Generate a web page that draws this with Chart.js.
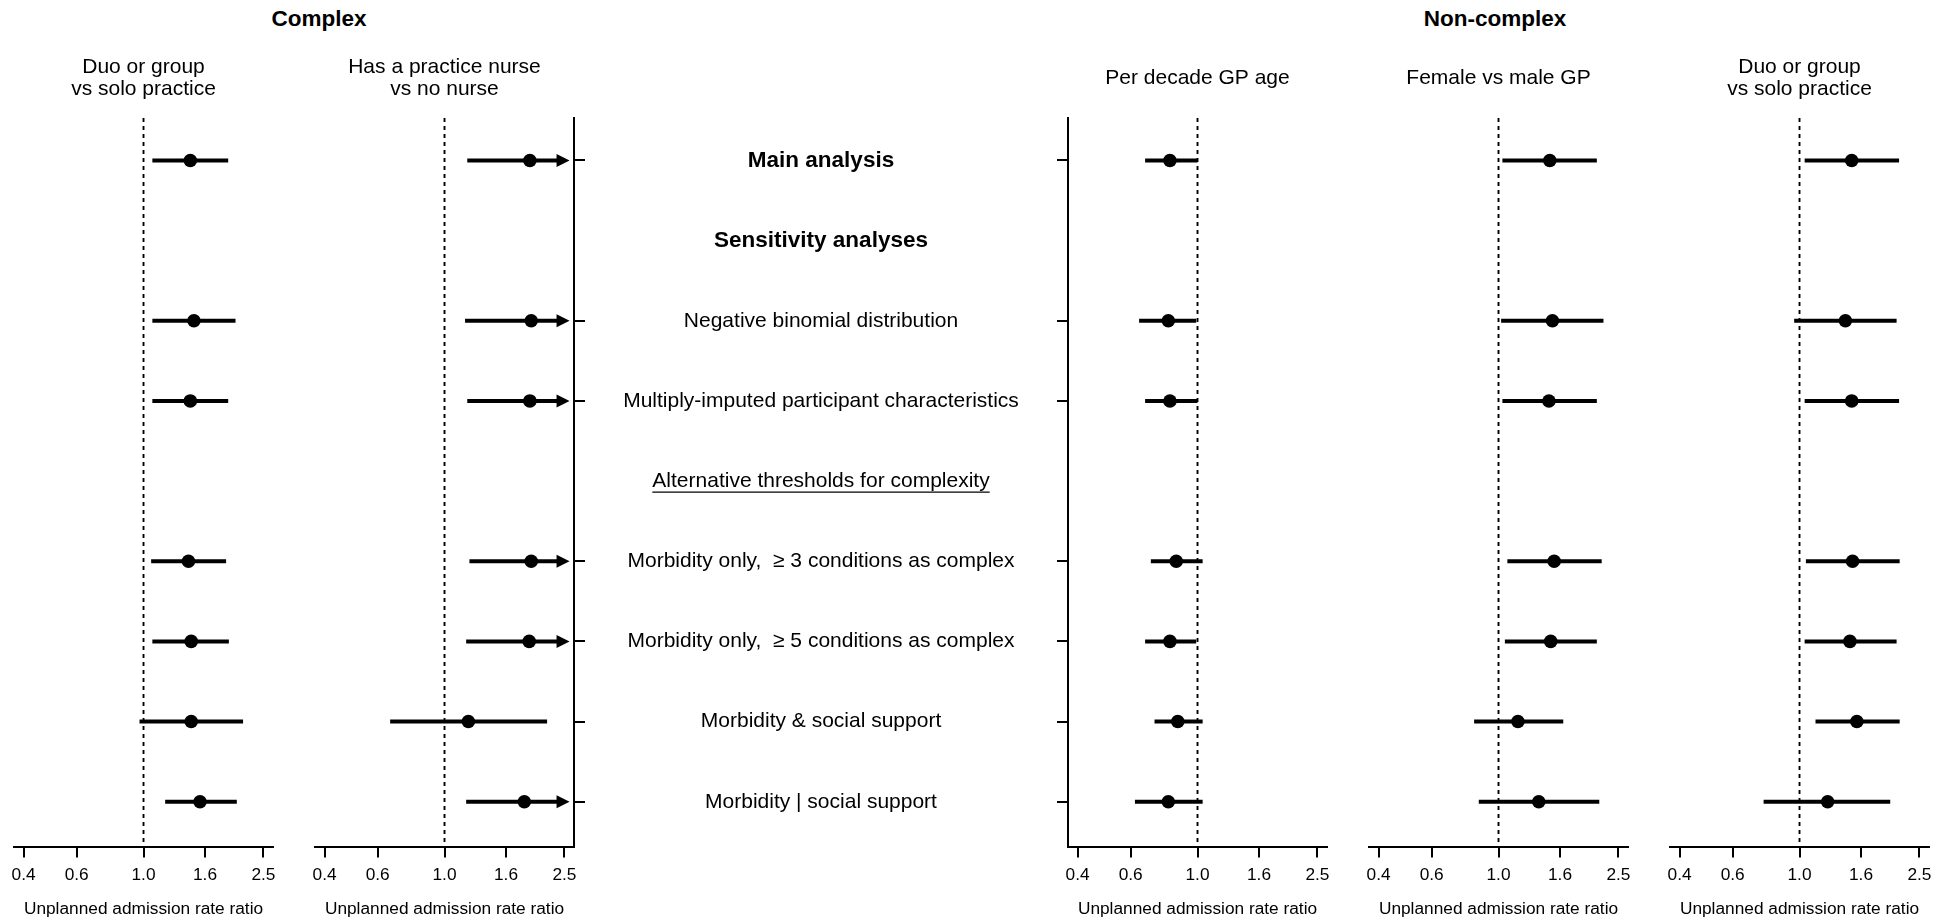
<!DOCTYPE html>
<html>
<head>
<meta charset="utf-8">
<script src="https://cdn.jsdelivr.net/npm/chart.js@4.4.1/dist/chart.umd.min.js"></script>
<style>
  html, body { margin: 0; padding: 0; background: #fff; }
  #wrap { position: relative; width: 1952px; height: 921px; overflow: hidden;
          font-family: 'Liberation Sans', Arial, Helvetica, sans-serif; color: #000; }
  #wrap canvas { position: absolute; top: 0; }
  .group { position: absolute; top: 6px; line-height: 26px; transform: translateX(-50%);
           font-weight: bold; font-size: 22.5px; white-space: nowrap; }
</style>
</head>
<body>
<div id="wrap">
  <div class="group" style="left:319px">Complex</div>
  <div class="group" style="left:1495px">Non-complex</div>
  <canvas id="p1" width="300" height="921"></canvas>
  <canvas id="p2" width="773" height="921"></canvas>
  <canvas id="p3" width="300" height="921"></canvas>
  <canvas id="p4" width="300" height="921"></canvas>
  <canvas id="p5" width="302" height="921"></canvas>
</div>
<script>
// ---- rows of the forest plot (top to bottom) ----
const rowLabels = [
  'Main analysis',
  'Sensitivity analyses',
  'Negative binomial distribution',
  'Multiply-imputed participant characteristics',
  'Alternative thresholds for complexity',
  'Morbidity only,  \u2265 3 conditions as complex',
  'Morbidity only,  \u2265 5 conditions as complex',
  'Morbidity & social support',
  'Morbidity | social support'
];
const rowKinds = ['header', 'header', 'item', 'item', 'subheader', 'item', 'item', 'item', 'item'];
// rows that carry an estimate
const dataRows = [0, 2, 3, 5, 6, 7, 8];

// ---- x axis ticks (rate ratio, log scale) ----
const tickValues = [0.4, 0.6, 1.0, 1.6, 2.5];
const tickLabels = ['0.4', '0.6', '1.0', '1.6', '2.5'];
const axisTitle = 'Unplanned admission rate ratio';

// ---- Complex: duo or group vs solo practice ----
const cxDuoEst = [1.43, 1.47, 1.43, 1.41, 1.44, 1.44, 1.54];
const cxDuoLo  = [1.07, 1.07, 1.07, 1.06, 1.07, 0.97, 1.18];
const cxDuoHi  = [1.91, 2.02, 1.91, 1.88, 1.92, 2.14, 2.04];

// ---- Complex: has a practice nurse vs no nurse ----
const cxNurseEst = [1.92, 1.94, 1.92, 1.94, 1.91, 1.20, 1.84];
const cxNurseLo  = [1.19, 1.17, 1.19, 1.21, 1.18, 0.66, 1.18];
const cxNurseHi  = [3.10, 3.22, 3.10, 3.11, 3.09, 2.19, 2.87];

// ---- Non-complex: per decade GP age ----
const ncAgeEst = [0.81, 0.80, 0.81, 0.85, 0.81, 0.86, 0.80];
const ncAgeLo  = [0.67, 0.64, 0.67, 0.70, 0.67, 0.72, 0.62];
const ncAgeHi  = [1.00, 0.99, 1.00, 1.04, 0.99, 1.04, 1.04];

// ---- Non-complex: female vs male GP ----
const ncSexEst = [1.48, 1.51, 1.47, 1.53, 1.49, 1.16, 1.36];
const ncSexLo  = [1.03, 1.02, 1.03, 1.07, 1.05, 0.83, 0.86];
const ncSexHi  = [2.12, 2.23, 2.12, 2.20, 2.12, 1.64, 2.16];

// ---- Non-complex: duo or group vs solo practice ----
const ncDuoEst = [1.49, 1.42, 1.49, 1.50, 1.47, 1.55, 1.24];
const ncDuoLo  = [1.04, 0.96, 1.04, 1.05, 1.04, 1.13, 0.76];
const ncDuoHi  = [2.14, 2.10, 2.14, 2.15, 2.10, 2.15, 2.00];

// ---- drawing settings ----
const FONT = "'Liberation Sans', Arial, Helvetica, sans-serif";
const X_MIN = 0.3717, X_MAX = 2.690;   // axis range (4% beyond outer ticks)
const ARROW_TIP = 2.6;                  // where truncated intervals end
const Y_MIN = -0.53, Y_MAX = 8.56;

// dotted line of no effect at 1.0
const nullLine = {
  id: 'nullLine',
  beforeDatasetsDraw(chart) {
    const {ctx, chartArea, scales: {x}} = chart;
    const px = x.getPixelForValue(1.0);
    ctx.save();
    ctx.strokeStyle = '#000';
    ctx.lineWidth = 1.9;
    ctx.setLineDash([4, 4]);
    ctx.beginPath();
    ctx.moveTo(px, chartArea.top);
    ctx.lineTo(px, chartArea.bottom);
    ctx.stroke();
    ctx.restore();
  }
};

// confidence interval segments, with an arrow when the upper limit is off scale
const ciLines = {
  id: 'ciLines',
  beforeDatasetsDraw(chart) {
    const {ctx, scales: {x, y}} = chart;
    const pts = chart.data.datasets[0].data;
    ctx.save();
    ctx.strokeStyle = '#000';
    ctx.fillStyle = '#000';
    ctx.lineWidth = 4;
    ctx.lineCap = 'butt';
    pts.forEach(p => {
      const py = y.getPixelForValue(p.y);
      const x0 = x.getPixelForValue(Math.max(p.lo, X_MIN));
      if (p.hi > X_MAX) {
        const tip = x.getPixelForValue(ARROW_TIP);
        const base = tip - 13;
        ctx.beginPath();
        ctx.moveTo(x0, py);
        ctx.lineTo(base + 1, py);
        ctx.stroke();
        ctx.beginPath();
        ctx.moveTo(tip, py);
        ctx.lineTo(base, py - 6.5);
        ctx.lineTo(base, py + 6.5);
        ctx.closePath();
        ctx.fill();
      } else {
        ctx.beginPath();
        ctx.moveTo(x0, py);
        ctx.lineTo(x.getPixelForValue(p.hi), py);
        ctx.stroke();
      }
    });
    ctx.restore();
  }
};

// analysis names between the two groups of panels
const rowNames = {
  id: 'rowNames',
  afterDraw(chart) {
    const {ctx, chartArea, scales: {y}} = chart;
    const cx = (chartArea.right + chart.width) / 2;
    ctx.save();
    ctx.fillStyle = '#000';
    ctx.strokeStyle = '#000';
    ctx.textAlign = 'center';
    ctx.textBaseline = 'middle';
    rowLabels.forEach((label, i) => {
      const py = y.getPixelForValue(i);
      const kind = rowKinds[i];
      ctx.font = kind === 'header' ? 'bold 22.5px ' + FONT : '21px ' + FONT;
      ctx.fillText(label, cx, py);
      if (kind === 'subheader') {
        const w = ctx.measureText(label).width;
        ctx.lineWidth = 1.4;
        ctx.beginPath();
        ctx.moveTo(cx - w / 2, py + 11);
        ctx.lineTo(cx + w / 2, py + 11);
        ctx.stroke();
      }
    });
    ctx.restore();
  }
};

function makePanel(spec) {
  const canvas = document.getElementById(spec.id);
  canvas.style.left = spec.left + 'px';
  const points = dataRows.map((r, i) => ({x: spec.est[i], y: r, lo: spec.lo[i], hi: spec.hi[i]}));
  const twoLines = spec.title.length > 1;
  const plugins = [nullLine, ciLines];
  if (spec.rowNames) plugins.push(rowNames);
  return new Chart(canvas, {
    type: 'scatter',
    data: {
      datasets: [{
        data: points,
        pointRadius: 6.8,
        pointHoverRadius: 6.8,
        pointBackgroundColor: '#000',
        pointBorderColor: '#000',
        pointBorderWidth: 0
      }]
    },
    options: {
      responsive: false,
      animation: false,
      devicePixelRatio: 1,
      events: [],
      layout: {padding: {left: spec.padL, right: spec.padR, top: 0, bottom: 0}},
      plugins: {
        legend: {display: false},
        tooltip: {enabled: false},
        title: {
          display: true,
          text: spec.title,
          fullSize: false,
          color: '#000',
          font: {family: FONT, size: 21, weight: 'normal', lineHeight: 1.071},
          padding: twoLines ? {top: 55.5, bottom: 17.5} : {top: 66.5, bottom: 29}
        }
      },
      scales: {
        x: {
          type: 'logarithmic',
          position: 'bottom',
          min: X_MIN,
          max: X_MAX,
          afterBuildTicks: s => { s.ticks = tickValues.map(v => ({value: v})); },
          afterFit: s => { s.height = 74.4; },
          border: {display: true, color: '#000', width: 2},
          grid: {display: true, drawOnChartArea: false, drawTicks: true, tickLength: 11, color: '#000', lineWidth: 2},
          ticks: {
            color: '#000', font: {family: FONT, size: 17.3}, padding: 7,
            autoSkip: false, maxRotation: 0, minRotation: 0,
            callback: (v, i) => tickLabels[i]
          },
          title: {display: true, text: axisTitle, color: '#000',
                  font: {family: FONT, size: 17.3}, padding: {top: 4, bottom: 1.5}}
        },
        y: {
          type: 'linear',
          reverse: true,
          min: Y_MIN,
          max: Y_MAX,
          display: spec.yAxis !== null,
          position: spec.yAxis || 'left',
          afterBuildTicks: s => { s.ticks = dataRows.map(v => ({value: v})); },
          border: {display: true, color: '#000', width: 2},
          grid: {display: true, drawOnChartArea: false, drawTicks: true, tickLength: 11, color: '#000', lineWidth: 2},
          ticks: {display: false}
        }
      }
    },
    plugins
  });
}

makePanel({id: 'p1', left: 0, padL: 14, padR: 27, yAxis: null,
  title: ['Duo or group', 'vs solo practice'], est: cxDuoEst, lo: cxDuoLo, hi: cxDuoHi});
makePanel({id: 'p2', left: 295, padL: 20, padR: 483, yAxis: 'right', rowNames: true,
  title: ['Has a practice nurse', 'vs no nurse'], est: cxNurseEst, lo: cxNurseLo, hi: cxNurseHi});
makePanel({id: 'p3', left: 1040, padL: 17, padR: 13, yAxis: 'left',
  title: ['Per decade GP age'], est: ncAgeEst, lo: ncAgeLo, hi: ncAgeHi});
makePanel({id: 'p4', left: 1350, padL: 19, padR: 22, yAxis: null,
  title: ['Female vs male GP'], est: ncSexEst, lo: ncSexLo, hi: ncSexHi});
makePanel({id: 'p5', left: 1650, padL: 20, padR: 23, yAxis: null,
  title: ['Duo or group', 'vs solo practice'], est: ncDuoEst, lo: ncDuoLo, hi: ncDuoHi});
</script>
</body>
</html>
